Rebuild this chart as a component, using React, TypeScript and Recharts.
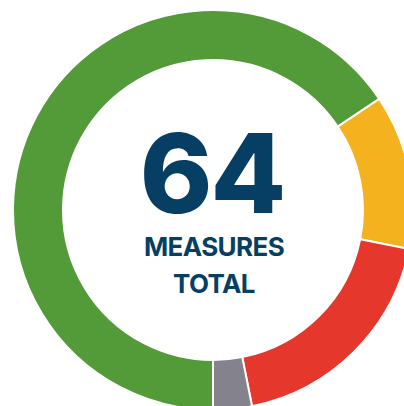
import { PieChart, Pie, Cell } from "recharts";

const categories = ["On track", "Some progress", "Off track", "No data"];
const counts = [42, 8, 12, 2];
const colors = ["#539A39", "#F3B21E", "#E6372D", "#83828D"];
const totalLabel = ["MEASURES", "TOTAL"];

const data = categories.map((name, i) => ({ name, value: counts[i] }));
const total = counts.reduce((a, b) => a + b, 0);

export default function App() {
  return (
    <div style={{ position: "absolute", left: 0, top: 0, width: 404, height: 406, overflow: "hidden", background: "#fff" }}>
      <PieChart width={404} height={406} margin={{ top: 0, right: 0, bottom: 0, left: 0 }}>
        <Pie
          data={data}
          dataKey="value"
          cx={213}
          cy={210}
          innerRadius={150}
          outerRadius={200}
          startAngle={270}
          endAngle={-90}
          stroke="#fff"
          strokeWidth={2}
          isAnimationActive={false}
        >
          {data.map((d, i) => (
            <Cell key={d.name} fill={colors[i]} />
          ))}
        </Pie>
      </PieChart>
      <svg width={404} height={406} style={{ position: "absolute", left: 0, top: 0 }}>
        <g fill="#063F63" textAnchor="middle" fontFamily="Inter, sans-serif">
          <text x={212} y={213} fontSize={110} fontWeight={800} letterSpacing={-2}>{total}</text>
          <text x={214} y={256} fontSize={26} fontWeight={700} letterSpacing={-0.6}>{totalLabel[0]}</text>
          <text x={214} y={293} fontSize={26} fontWeight={700} letterSpacing={-0.6}>{totalLabel[1]}</text>
        </g>
      </svg>
    </div>
  );
}
